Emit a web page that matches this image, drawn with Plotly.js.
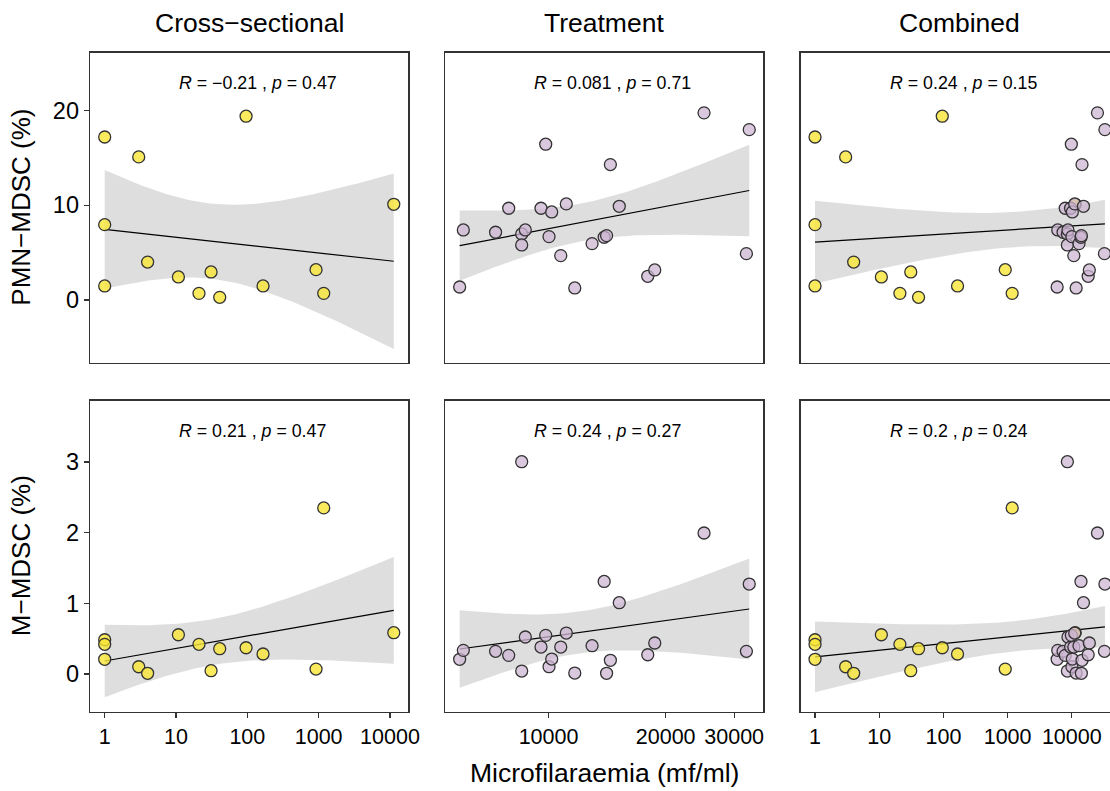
<!DOCTYPE html>
<html>
<head>
<meta charset="utf-8">
<script src="https://cdn.plot.ly/plotly-3.0.1.min.js"></script>
<style>html,body{margin:0;padding:0;background:#fff}#chart{width:1110px;height:791px}</style>
</head>
<body>
<div id="chart"></div>
<script>
// ---------- data ----------
const facetTitles = ["Cross\u2212sectional", "Treatment", "Combined"];
const rowTitles = ["PMN\u2212MDSC (%)", "M\u2212MDSC (%)"];
const xTitle = "Microfilaraemia (mf/ml)";

// Cross-sectional group
const csX   = [1, 1, 1, 3, 4, 10.8, 21, 31, 41, 96, 166, 919, 1178, 11300];
const csPMN = [17.2, 7.95, 1.48, 15.1, 4.0, 2.43, 0.7, 2.96, 0.28, 19.4, 1.48, 3.2, 0.7, 10.1];
const csM   = [0.485, 0.42, 0.208, 0.103, 0.01, 0.556, 0.42, 0.047, 0.358, 0.372, 0.283, 0.07, 2.35, 0.585];

// Treatment group
const trX   = [5910, 6040, 7310, 7900, 8532, 8532, 8717, 9565, 9835, 10030, 10190, 10750, 11110, 11680, 12940, 13900, 14100, 14420, 15200, 17990, 18750, 25100, 32250, 32800];
const trPMN = [1.37, 7.39, 7.15, 9.68, 6.97, 5.81, 7.39, 9.68, 16.44, 6.69, 9.29, 4.68, 10.14, 1.27, 5.95, 6.62, 6.79, 14.29, 9.89, 2.50, 3.17, 19.75, 4.89, 17.98];
const trM   = [0.208, 0.335, 0.321, 0.264, 3.004, 0.042, 0.524, 0.382, 0.547, 0.104, 0.212, 0.382, 0.58, 0.014, 0.401, 1.31, 0.01, 0.194, 1.009, 0.273, 0.439, 1.995, 0.321, 1.273];

// correlation labels [row][col]
const corLabels = [
  ["<i>R</i> = \u22120.21 , <i>p</i> = 0.47", "<i>R</i> = 0.081 , <i>p</i> = 0.71", "<i>R</i> = 0.24 , <i>p</i> = 0.15"],
  ["<i>R</i> = 0.21 , <i>p</i> = 0.47", "<i>R</i> = 0.24 , <i>p</i> = 0.27", "<i>R</i> = 0.2 , <i>p</i> = 0.24"]
];

const logTicks = [1, 10, 100, 1000, 10000];
const trTicks = [10000, 20000, 30000];
const rowYTicks = [[0, 10, 20], [0, 1, 2, 3]];

// ---------- styling / geometry ----------
const W = 1110, H = 791;
const colPx = [[90, 408.3], [445.3, 763.3], [800.7, 1110]];
const rowPx = [[52.7, 362.7], [400.7, 711.7]];
const xRanges = [[-0.206, 4.257], [3.7347, 4.552], [-0.223, 4.595]];
const yRanges = [[-6.62, 26.1], [-0.533, 3.867]];
const yellow = "rgba(249,229,52,0.8)";
const purple = "rgba(206,182,211,0.75)";
const edge = "#333333";
const FONT = "Liberation Sans, Arial, sans-serif";

// ---------- linear fit with 95% CI on log10(x) ----------
function tq(df) {
  const z = 1.959964;
  const z3 = z ** 3, z5 = z ** 5, z7 = z ** 7, z9 = z ** 9;
  return z + (z3 + z) / (4 * df) + (5 * z5 + 16 * z3 + 3 * z) / (96 * df * df)
    + (3 * z7 + 19 * z5 + 17 * z3 - 15 * z) / (384 * df ** 3)
    + (79 * z9 + 776 * z7 + 1482 * z5 - 1920 * z3 - 945 * z) / (92160 * df ** 4);
}
function fit(xs, ys) {
  const lx = xs.map(Math.log10);
  const n = lx.length;
  const mx = lx.reduce((a, b) => a + b, 0) / n;
  const my = ys.reduce((a, b) => a + b, 0) / n;
  let sxx = 0, sxy = 0;
  for (let i = 0; i < n; i++) { sxx += (lx[i] - mx) ** 2; sxy += (lx[i] - mx) * (ys[i] - my); }
  const b = sxy / sxx, a = my - b * mx;
  let sse = 0;
  for (let i = 0; i < n; i++) sse += (ys[i] - a - b * lx[i]) ** 2;
  const s = Math.sqrt(sse / (n - 2));
  const t = tq(n - 2);
  const lo = Math.min(...lx), hi = Math.max(...lx);
  const gx = [], gy = [], glo = [], ghi = [];
  const N = 80;
  for (let k = 0; k <= N; k++) {
    const g = lo + (hi - lo) * k / N;
    const yh = a + b * g;
    const se = s * Math.sqrt(1 / n + (g - mx) ** 2 / sxx);
    gx.push(10 ** g); gy.push(yh); glo.push(yh - t * se); ghi.push(yh + t * se);
  }
  return { gx, gy, glo, ghi };
}

// ---------- build panels ----------
const panels = [
  [{ x: csX, y: csPMN, c: csX.map(() => yellow) }, { x: trX, y: trPMN, c: trX.map(() => purple) },
   { x: csX.concat(trX), y: csPMN.concat(trPMN), c: csX.map(() => yellow).concat(trX.map(() => purple)) }],
  [{ x: csX, y: csM, c: csX.map(() => yellow) }, { x: trX, y: trM, c: trX.map(() => purple) },
   { x: csX.concat(trX), y: csM.concat(trM), c: csX.map(() => yellow).concat(trX.map(() => purple)) }]
];

const traces = [];
const layout = {
  width: W, height: H, margin: { l: 0, r: 0, t: 0, b: 0 },
  paper_bgcolor: "#fff", plot_bgcolor: "#fff", showlegend: false,
  font: { family: FONT, color: "#000" },
  annotations: [], shapes: []
};

for (let r = 0; r < 2; r++) {
  for (let c = 0; c < 3; c++) {
    const idx = r * 3 + c + 1;
    const xa = idx === 1 ? "x" : "x" + idx;
    const ya = idx === 1 ? "y" : "y" + idx;
    const p = panels[r][c];
    const f = fit(p.x, p.y);
    traces.push({
      type: "scatter", mode: "lines", xaxis: xa, yaxis: ya,
      x: f.gx.concat(f.gx.slice().reverse()),
      y: f.ghi.concat(f.glo.slice().reverse()),
      fill: "toself", fillcolor: "rgba(153,153,153,0.32)", line: { width: 0 }, hoverinfo: "skip"
    });
    traces.push({
      type: "scatter", mode: "lines", xaxis: xa, yaxis: ya,
      x: f.gx, y: f.gy, line: { color: "#000", width: 1.2 }
    });
    traces.push({
      type: "scatter", mode: "markers", xaxis: xa, yaxis: ya,
      x: p.x, y: p.y,
      marker: { size: 12, color: p.c, line: { color: edge, width: 1.3 } }
    });

    const xd = [colPx[c][0] / W, colPx[c][1] / W];
    const yd = [1 - rowPx[r][1] / H, 1 - rowPx[r][0] / H];
    const xkey = idx === 1 ? "xaxis" : "xaxis" + idx;
    const ykey = idx === 1 ? "yaxis" : "yaxis" + idx;
    const tv = c === 1 ? trTicks : logTicks;
    layout[xkey] = {
      domain: xd, anchor: ya, type: "log", range: xRanges[c],
      showgrid: false, zeroline: false, showline: true, mirror: true,
      linecolor: edge, linewidth: 1.3,
      tickmode: "array", tickvals: tv, ticktext: tv.map(String),
      ticks: r === 1 ? "outside" : "", ticklen: 5, tickwidth: 1.3, tickcolor: edge,
      showticklabels: r === 1,
      tickfont: { family: FONT, size: 21.5, color: "#000" }
    };
    layout[ykey] = {
      domain: yd, anchor: xa, range: yRanges[r],
      showgrid: false, zeroline: false, showline: true, mirror: c < 2,
      linecolor: edge, linewidth: 1.3,
      tickmode: "array", tickvals: rowYTicks[r], ticktext: rowYTicks[r].map(String),
      ticks: c === 0 ? "outside" : "", ticklen: 5, tickwidth: 1.3, tickcolor: edge,
      showticklabels: c === 0,
      tickfont: { family: FONT, size: 23.5, color: "#000" }
    };
    // correlation label
    layout.annotations.push({
      xref: "paper", yref: "paper",
      x: (colPx[c][0] + 87) / W, y: 1 - (rowPx[r][0] + 30) / H,
      xanchor: "left", yanchor: "middle", showarrow: false,
      text: corLabels[r][c], font: { family: FONT, size: 17.8, color: "#000" }
    });
  }
}

// facet titles
for (let c = 0; c < 3; c++) {
  const cx = c === 2 ? (800.7 + 1119) / 2 : (colPx[c][0] + colPx[c][1]) / 2;
  layout.annotations.push({
    xref: "paper", yref: "paper", x: cx / W, y: 1 - 23 / H,
    xanchor: "center", yanchor: "middle", showarrow: false,
    text: facetTitles[c], font: { family: FONT, size: 26.5, color: "#000" }
  });
}
// row (y) titles
for (let r = 0; r < 2; r++) {
  layout.annotations.push({
    xref: "paper", yref: "paper", x: 21 / W, y: 1 - ((rowPx[r][0] + rowPx[r][1]) / 2) / H,
    xanchor: "center", yanchor: "middle", showarrow: false, textangle: -90,
    text: rowTitles[r], font: { family: FONT, size: 26, color: "#000" }
  });
}
// x title
layout.annotations.push({
  xref: "paper", yref: "paper", x: 604 / W, y: 1 - 773 / H,
  xanchor: "center", yanchor: "middle", showarrow: false,
  text: xTitle, font: { family: FONT, size: 26.5, color: "#000" }
});

Plotly.newPlot("chart", traces, layout, { displayModeBar: false, staticPlot: true });
</script>
</body>
</html>
